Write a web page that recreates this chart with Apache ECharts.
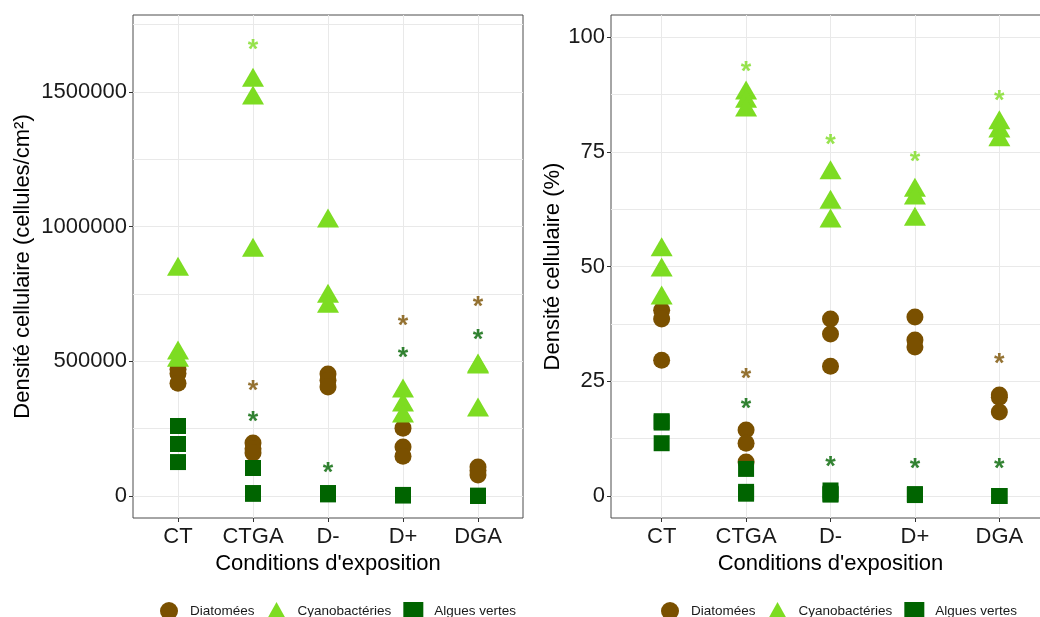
<!DOCTYPE html>
<html>
<head>
<meta charset="utf-8">
<script src="https://cdn.jsdelivr.net/npm/echarts@6/dist/echarts.min.js"></script>
<style>
  html, body { margin: 0; padding: 0; background: #ffffff; }
  #chart { width: 1040px; height: 617px; }
</style>
</head>
<body>
<div id="chart"></div>
<script>
// Exposure conditions (x axis of both panels)
const categories = ['CT', 'CTGA', 'D-', 'D+', 'DGA'];
const groupNames = ['Diatomées', 'Cyanobactéries', 'Algues vertes'];

// Left panel: cell density (cellules/cm²), replicates per condition
const diatomDensity = [[471000, 455000, 419000], [197000, 175000, 160000], [453000, 430000, 405000], [252000, 182000, 148000], [108000, 95000, 78000]];
const cyanoDensity  = [[853000, 542000, 515000], [1555000, 1489000, 924000], [1032000, 753000, 716000], [401000, 349000, 308000], [494000, 490000, 330000]];
const greenDensity  = [[260000, 193000, 126000], [104000, 11000, 8000], [11000, 9000, 6000], [4000, 3000, 2000], [1000, 500, 0]];

// Left panel: significance asterisks (null = none)
const diatomStarDensity = [null, 412000, null, 657000, 724000];
const cyanoStarDensity  = [null, 1681000, null, null, null];
const greenStarDensity  = [null, 297000, 108000, 535000, 605000];

// Right panel: relative cell density (%)
const diatomShare = [[40.5, 38.6, 29.6], [14.4, 11.5, 7.4], [38.6, 35.3, 28.3], [39.0, 34.0, 32.5], [22.0, 21.5, 18.3]];
const cyanoShare  = [[54.3, 49.9, 43.8], [88.5, 86.7, 84.8], [71.1, 64.7, 60.6], [67.3, 65.6, 61.0], [82.0, 80.2, 78.3]];
const greenShare  = [[16.3, 16.0, 11.5], [5.9, 0.9, 0.5], [1.2, 0.5, 0.3], [0.4, 0.3, 0.2], [0, 0, 0]];

// Right panel: significance asterisks
const diatomStarShare = [null, 26.8, null, null, 30.1];
const cyanoStarShare  = [null, 93.9, 78.0, 74.3, 87.6];
const greenStarShare  = [null, 20.3, 7.8, 7.2, 7.2];

// Axis ticks and grid lines
const densityTicks = [0, 500000, 1000000, 1500000];
const densityGrid  = [0, 250000, 500000, 750000, 1000000, 1250000, 1500000, 1750000];
const shareTicks   = [0, 25, 50, 75, 100];
const shareGrid    = [0, 12.5, 25, 37.5, 50, 62.5, 75, 87.5, 100];
const categoryPos  = [1, 2, 3, 4, 5];

const FONT = '"Liberation Sans", Arial, sans-serif';
const colors = ['#7a5000', '#7ddc22', '#006400'];
const symbols = ['circle', 'triangle', 'rect'];
const symbolSizes = [17, [22, 19], 16];

function toPoints(groups) {
  const out = [];
  groups.forEach((vals, i) => vals.forEach(v => out.push([i + 1, v])));
  return out;
}
function toStars(arr) {
  const out = [];
  arr.forEach((v, i) => { if (v !== null) out.push([i + 1, v]); });
  return out;
}

const panels = [
  {
    grid: { left: 133, top: 15, width: 390, height: 503 },
    yMin: -81680, yMax: 1785900, ticks: densityTicks, gridVals: densityGrid,
    yName: 'Densité cellulaire (cellules/cm²)', yNameGap: 99,
    values: [diatomDensity, cyanoDensity, greenDensity],
    stars: [diatomStarDensity, cyanoStarDensity, greenStarDensity],
    legendLeft: 155
  },
  {
    grid: { left: 611, top: 15, width: 439, height: 503 },
    yMin: -4.8, yMax: 104.84, ticks: shareTicks, gridVals: shareGrid,
    yName: 'Densité cellulaire (%)', yNameGap: 47,
    values: [diatomShare, cyanoShare, greenShare],
    stars: [diatomStarShare, cyanoStarShare, greenStarShare],
    legendLeft: 656
  }
];

const option = {
  animation: false,
  backgroundColor: '#ffffff',
  grid: [], xAxis: [], yAxis: [], series: [], legend: []
};

panels.forEach((p, k) => {
  option.grid.push(Object.assign({
    show: true, borderColor: '#4d4d4d', borderWidth: 1, backgroundColor: 'transparent',
    containLabel: false, outerBoundsMode: 'none'
  }, p.grid));

  option.xAxis.push({
    type: 'value', gridIndex: k, min: 0.4, max: 5.6,
    name: "Conditions d'exposition", nameLocation: 'middle', nameGap: 33,
    nameTextStyle: { fontFamily: FONT, fontSize: 22, color: '#000000' },
    axisLine: { show: false, onZero: false },
    axisTick: { show: true, length: 4, customValues: categoryPos, lineStyle: { color: '#333333' } },
    axisLabel: {
      customValues: categoryPos, margin: 8,
      fontFamily: FONT, fontSize: 22, color: '#1a1a1a',
      formatter: v => categories[Math.round(v) - 1]
    },
    splitLine: { show: false }
  });

  option.yAxis.push({
    type: 'value', gridIndex: k, min: p.yMin, max: p.yMax,
    name: p.yName, nameLocation: 'middle', nameRotate: 90, nameGap: p.yNameGap,
    nameTextStyle: { fontFamily: FONT, fontSize: 22, color: '#000000' },
    axisLine: { show: false, onZero: false },
    axisTick: { show: true, length: 4, customValues: p.ticks, lineStyle: { color: '#333333' } },
    axisLabel: {
      customValues: p.ticks, margin: 6,
      fontFamily: FONT, fontSize: 22, color: '#1a1a1a',
      formatter: v => String(v)
    },
    splitLine: { show: false }
  });

  // panel grid lines
  option.series.push({
    type: 'scatter', xAxisIndex: k, yAxisIndex: k, data: [], silent: true, z: 0,
    markLine: {
      silent: true, symbol: ['none', 'none'], z: 0, animation: false,
      label: { show: false },
      emphasis: { disabled: true },
      lineStyle: { type: 'solid', color: '#e9e9e9', width: 1 },
      data: p.gridVals.map(v => ({ yAxis: v })).concat(categoryPos.map(v => ({ xAxis: v })))
    }
  });

  // observations
  p.values.forEach((vals, g) => {
    option.series.push({
      type: 'scatter', name: groupNames[g], xAxisIndex: k, yAxisIndex: k,
      data: toPoints(vals), symbol: symbols[g], symbolSize: symbolSizes[g],
      itemStyle: { color: colors[g], opacity: 1 }, z: 2 + g, silent: true
    });
  });

  // significance asterisks
  p.stars.forEach((vals, g) => {
    option.series.push({
      type: 'scatter', xAxisIndex: k, yAxisIndex: k,
      data: toStars(vals), symbol: 'circle', symbolSize: 1,
      itemStyle: { color: 'rgba(0,0,0,0)' }, z: 6, silent: true,
      label: {
        show: true, position: 'inside', formatter: '*', offset: [0, 7],
        fontFamily: FONT, fontSize: 27, fontWeight: 'bold', color: colors[g]
      }
    });
  });

  option.legend.push({
    left: p.legendLeft, top: 597, orient: 'horizontal',
    itemWidth: 20, itemHeight: 18, itemGap: 12, symbolKeepAspect: true,
    selectedMode: false,
    textStyle: { fontFamily: FONT, fontSize: 13.5, color: '#1a1a1a', padding: [0, 0, 0, 6] },
    data: groupNames.map((n, g) => ({ name: n, icon: symbols[g] }))
  });
});

const chart = echarts.init(document.getElementById('chart'), null, { renderer: 'canvas' });
chart.setOption(option);
</script>
</body>
</html>
